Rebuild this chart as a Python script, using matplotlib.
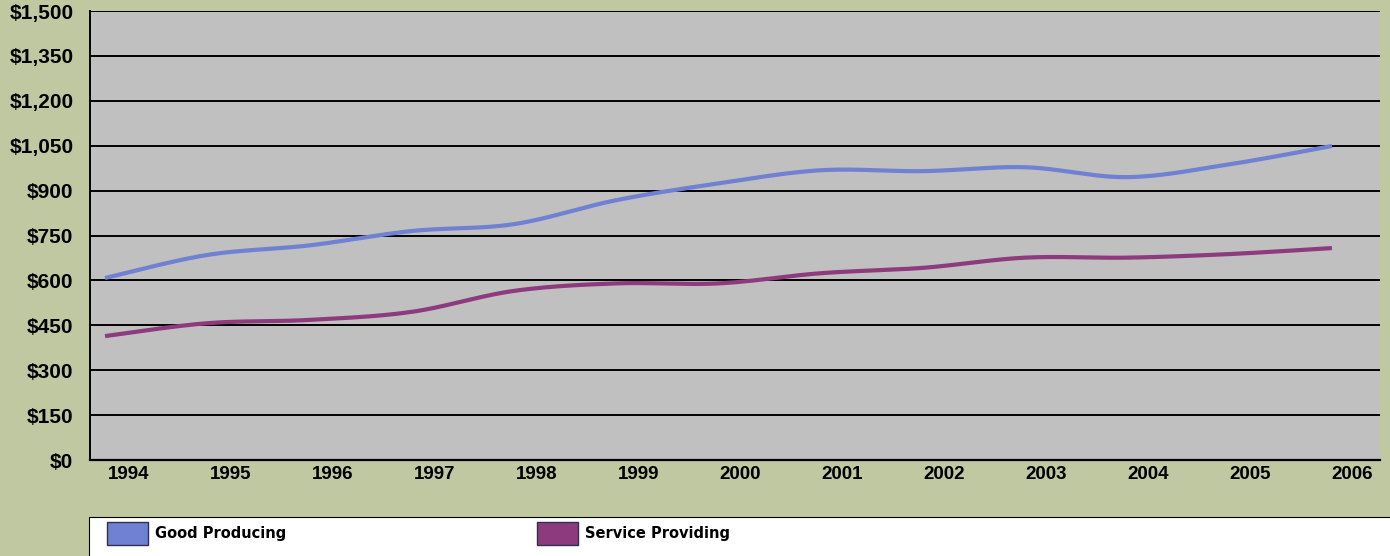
import numpy as np
import matplotlib
matplotlib.use("Agg")
import matplotlib.pyplot as plt
from matplotlib.patches import Patch, Rectangle
from matplotlib.ticker import FuncFormatter

years = [1994, 1995, 1996, 1997, 1998, 1999, 2000, 2001, 2002, 2003, 2004, 2005, 2006]
good_producing = [608, 685, 717, 765, 788, 868, 924, 968, 965, 978, 945, 988, 1049]
service_providing = [414, 457, 468, 495, 565, 590, 590, 624, 642, 676, 676, 688, 708]
y_ticks = [0, 150, 300, 450, 600, 750, 900, 1050, 1200, 1350, 1500]

BG = "#BFC8A1"
PLOT_BG = "#C0C0C0"
BLUE = "#7080D2"
PURPLE = "#8E3A7E"


def smooth(x, y, n=30):
    # Excel-style smoothed line: cubic Bezier through points (Catmull-Rom tangents)
    x = np.asarray(x, float); y = np.asarray(y, float)
    px = np.concatenate([[x[0]], x, [x[-1]]])
    py = np.concatenate([[y[0]], y, [y[-1]]])
    xs, ys = [], []
    t = np.linspace(0, 1, n)
    for i in range(1, len(px) - 2):
        p0 = np.array([px[i], py[i]]); p3 = np.array([px[i + 1], py[i + 1]])
        c1 = p0 + (np.array([px[i + 1], py[i + 1]]) - np.array([px[i - 1], py[i - 1]])) / 6
        c2 = p3 - (np.array([px[i + 2], py[i + 2]]) - np.array([px[i], py[i]])) / 6
        b = ((1 - t) ** 3)[:, None] * p0 + (3 * (1 - t) ** 2 * t)[:, None] * c1 \
            + (3 * (1 - t) * t ** 2)[:, None] * c2 + (t ** 3)[:, None] * p3
        xs.append(b[:, 0]); ys.append(b[:, 1])
    return np.concatenate(xs), np.concatenate(ys)


plt.rcParams["font.family"] = ["Liberation Sans", "DejaVu Sans"]

fig = plt.figure(figsize=(13.9, 5.56), dpi=100, facecolor=BG)
ax = fig.add_axes([90 / 1390, 1 - 460 / 556, 1290 / 1390, 449 / 556])
ax.set_facecolor(PLOT_BG)

xi = np.arange(len(years))
for vals, col in ((good_producing, BLUE), (service_providing, PURPLE)):
    sx, sy = smooth(xi, vals)
    ax.plot(sx, sy, color=col, lw=3.0, solid_capstyle="butt", zorder=3)

ax.set_xlim(-0.147, 12.47)
ax.set_ylim(0, 1500)
ax.set_yticks(y_ticks)
ax.yaxis.set_major_formatter(FuncFormatter(lambda v, p: f"${v:,.0f}"))
ax.set_xticks(xi * 0.997 + 0.23)
ax.set_xticklabels([str(y) for y in years])
ax.tick_params(axis="y", length=0, pad=12, labelsize=15)
ax.tick_params(axis="x", length=0, pad=4, labelsize=13.5)
for lab in ax.get_xticklabels() + ax.get_yticklabels():
    lab.set_fontweight("bold")

ax.grid(axis="y", color="black", lw=1.4, zorder=1)
ax.set_axisbelow(True)
for s in ("top", "right"):
    ax.spines[s].set_visible(False)
ax.spines["left"].set_linewidth(1.4)
ax.spines["bottom"].set_linewidth(1.6)

# legend box
fig.patches.append(Rectangle((89 / 1390, -0.05), 1320 / 1390, 1 - 517 / 556 + 0.05,
                             transform=fig.transFigure, facecolor="white",
                             edgecolor="black", lw=0.8, zorder=0))
handles = [Patch(facecolor=BLUE, edgecolor="#303050", lw=1.0, label="Good Producing"),
           Patch(facecolor=PURPLE, edgecolor="#303050", lw=1.0, label="Service Providing")]
fig.legend(handles=handles, loc="upper left", bbox_to_anchor=(107 / 1390, 1 - 522 / 556),
           ncol=2, frameon=False, borderpad=0, borderaxespad=0,
           handlelength=2.8, handleheight=2.0, handletextpad=0.5, columnspacing=17.2,
           prop={"family": "DejaVu Sans", "weight": "bold", "size": 10.5})

fig.savefig("out.png", dpi=100, facecolor=BG)
